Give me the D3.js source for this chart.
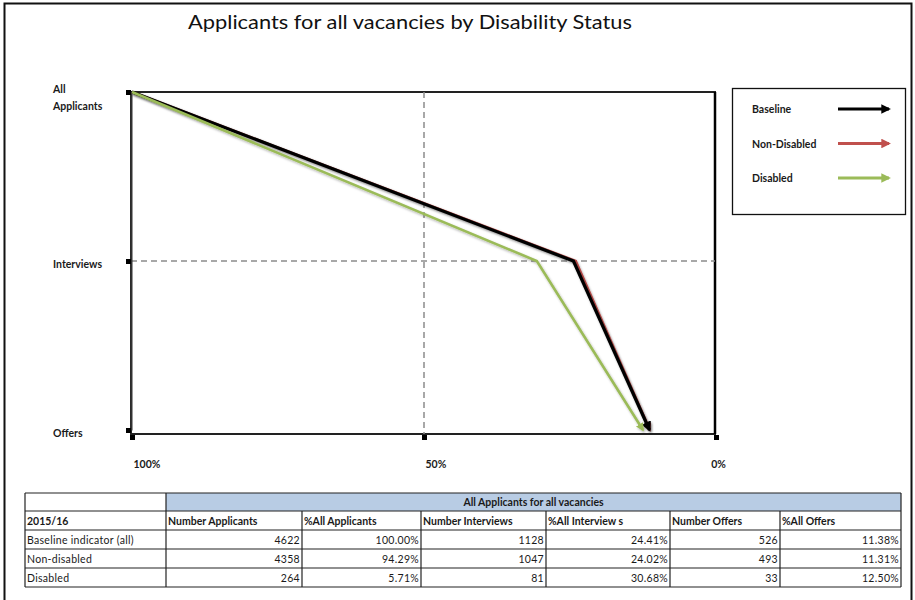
<!DOCTYPE html>
<html>
<head>
<meta charset="utf-8">
<script src="https://cdn.jsdelivr.net/npm/d3@7"></script>
<style>
  body { margin: 0; background: #fff; }
  svg { display: block; font-family: Lato, "Open Sans", sans-serif; }
</style>
</head>
<body>
<svg id="chart" width="915" height="600"></svg>
<script>
// Recruitment stages, top to bottom
const stages = ["All Applicants", "Interviews", "Offers"];

// Share of each group's applicants reaching each stage (%)
const baselinePct    = [100, 24.41, 11.38];
const nonDisabledPct = [100, 24.02, 11.31];
const disabledPct    = [100, 30.68, 12.50];

const seriesNames = ["Baseline", "Non-Disabled", "Disabled"];
const xTicks = [100, 50, 0];

// Summary table
const tableTitle = "All Applicants for all vacancies";
const tableYear = "2015/16";
const tableHeaders = ["Number Applicants", "%All Applicants", "Number Interviews", "%All Interview s", "Number Offers", "%All Offers"];
const rowLabels = ["Baseline indicator (all)", "Non-disabled", "Disabled"];
const applicants = [4622, 4358, 264];
const applicantsPct = ["100.00%", "94.29%", "5.71%"];
const interviews = [1128, 1047, 81];
const interviewsPct = ["24.41%", "24.02%", "30.68%"];
const offers = [526, 493, 33];
const offersPct = ["11.38%", "11.31%", "12.50%"];

const colors = { "Baseline": "#000000", "Non-Disabled": "#c0504d", "Disabled": "#9bbb59" };

const svg = d3.select("#chart");

// outer frame
svg.append("rect").attr("x", 4.5).attr("y", 3.5).attr("width", 907).attr("height", 605)
  .attr("fill", "none").attr("stroke", "#111").attr("stroke-width", 2);

// title
svg.append("text").attr("x", 410).attr("y", 29).attr("text-anchor", "middle")
  .attr("font-size", 19).attr("fill", "#111")
  .attr("textLength", 444).attr("lengthAdjust", "spacingAndGlyphs")
  .text("Applicants for all vacancies by Disability Status");

const defs = svg.append("defs");
const shadow = defs.append("filter").attr("id", "shadow")
  .attr("x", "-10%").attr("y", "-10%").attr("width", "120%").attr("height", "120%");
shadow.append("feDropShadow").attr("dx", 1).attr("dy", 1.5).attr("stdDeviation", 1)
  .attr("flood-color", "#000").attr("flood-opacity", 0.3);

// arrowheads, one per series colour
seriesNames.forEach((name, i) => {
  defs.append("marker").attr("id", "arrow" + i)
    .attr("viewBox", "0 0 10 10").attr("refX", 8).attr("refY", 5)
    .attr("markerWidth", 3.2).attr("markerHeight", 3.2).attr("orient", "auto")
    .append("path").attr("d", "M0,0 L10,5 L0,10 Z").attr("fill", colors[name]);
});

// plot area
const plotLeft = 131, plotRight = 715, plotTop = 92, plotBottom = 434;
const x = d3.scaleLinear().domain([100, 0]).range([plotLeft + 1, plotRight + 1]);
const y = d3.scalePoint().domain(stages).range([92, 430]);

const g = svg.append("g");

// frame of the plot area
g.append("rect").attr("x", plotLeft).attr("y", plotTop)
  .attr("width", plotRight - plotLeft).attr("height", plotBottom - plotTop)
  .attr("fill", "none").attr("stroke", "#222").attr("stroke-width", 2);
g.append("line").attr("x1", plotRight).attr("x2", plotRight).attr("y1", plotTop).attr("y2", plotBottom)
  .attr("stroke", "#000").attr("stroke-width", 2.5);

// dashed guide lines
g.append("line").attr("x1", x(50)).attr("x2", x(50)).attr("y1", plotTop).attr("y2", plotBottom)
  .attr("stroke", "#8c8c8c").attr("stroke-width", 1.5).attr("stroke-dasharray", "6,4");
g.append("line").attr("x1", plotLeft).attr("x2", plotRight)
  .attr("y1", y("Interviews")).attr("y2", y("Interviews"))
  .attr("stroke", "#8c8c8c").attr("stroke-width", 1.5).attr("stroke-dasharray", "6,4");

// left axis: square tick marks, labels flush left
const yAxis = g.append("g").attr("transform", `translate(${plotLeft},0)`)
  .call(d3.axisLeft(y).tickSizeInner(5).tickSizeOuter(0).tickPadding(0));
yAxis.select(".domain").attr("stroke", "#333").attr("stroke-width", 2);
yAxis.selectAll(".tick line").attr("stroke", "#000").attr("stroke-width", 5);
yAxis.selectAll(".tick text").remove();
yAxis.selectAll(".tick").append("text")
  .attr("x", 53 - plotLeft).attr("text-anchor", "start")
  .attr("font-size", 10.5).attr("font-weight", "bold").attr("fill", "#1a1a1a")
  .attr("font-family", "Lato, sans-serif")
  .each(function(d) {
    const t = d3.select(this);
    const words = d === "All Applicants" ? ["All", "Applicants"] : [d];
    const y0 = words.length === 2 ? 0 : 6;
    words.forEach((w, i) => t.append("tspan").attr("x", 53 - plotLeft).attr("y", y0 + i * 17).text(w));
  });

// bottom axis
const xAxis = g.append("g").attr("transform", `translate(0,${plotBottom})`)
  .call(d3.axisBottom(x).tickValues(xTicks).tickFormat(d => d + "%")
    .tickSizeInner(5).tickSizeOuter(0).tickPadding(0));
xAxis.select(".domain").remove();
xAxis.selectAll(".tick line").attr("stroke", "#000").attr("stroke-width", 5).attr("y1", 1).attr("y2", 6);
xAxis.selectAll(".tick text")
  .attr("y", 34).attr("dy", 0)
  .attr("text-anchor", d => d === 0 ? "middle" : "start")
  .attr("dx", d => d === 0 ? 2 : 1)
  .attr("font-size", 10.5).attr("font-weight", "bold").attr("fill", "#1a1a1a")
  .attr("font-family", "Lato, sans-serif");

// series lines
const series = [
  { name: "Non-Disabled", values: nonDisabledPct, idx: 1, w: 2.6 },
  { name: "Baseline", values: baselinePct, idx: 0, w: 3.2 },
  { name: "Disabled", values: disabledPct, idx: 2, w: 2.6 }
];
const line = d3.line().x(d => x(d.v)).y(d => y(d.s));
g.selectAll(".series").data(series).join("path")
  .attr("class", "series")
  .attr("d", s => line(s.values.map((v, i) => ({ v, s: stages[i] }))))
  .attr("fill", "none").attr("stroke", s => colors[s.name]).attr("stroke-width", s => s.w)
  .attr("stroke-linejoin", "miter")
  .attr("marker-end", s => `url(#arrow${s.idx})`)
  .attr("filter", "url(#shadow)");

// legend
const legend = svg.append("g");
legend.append("rect").attr("x", 732.5).attr("y", 88.5).attr("width", 173).attr("height", 126)
  .attr("fill", "#fff").attr("stroke", "#111").attr("stroke-width", 1.3);
seriesNames.forEach((name, i) => {
  const ly = 109 + i * 34.5;
  legend.append("text").attr("x", 752).attr("y", ly + 4).attr("font-size", 10.5)
    .attr("font-weight", "bold").attr("fill", "#1a1a1a").text(name);
  legend.append("line").attr("x1", 838).attr("x2", 889).attr("y1", ly).attr("y2", ly)
    .attr("stroke", colors[name]).attr("stroke-width", 3)
    .attr("marker-end", `url(#arrow${i})`);
});

// summary table
const colEdges = [25, 166, 302, 421, 546, 670, 780, 901];
const rowEdges = [493, 511, 530, 549, 568, 587];
const tbl = svg.append("g").attr("font-size", 10.5).attr("fill", "#1a1a1a");

tbl.append("rect").attr("x", colEdges[1]).attr("y", rowEdges[0])
  .attr("width", colEdges[7] - colEdges[1]).attr("height", rowEdges[1] - rowEdges[0])
  .attr("fill", "#b8cce4");
tbl.append("text").attr("x", (colEdges[1] + colEdges[7]) / 2).attr("y", rowEdges[1] - 5)
  .attr("text-anchor", "middle").attr("font-weight", "bold").text(tableTitle);

const rows = [
  [tableYear].concat(tableHeaders),
  ...rowLabels.map((lab, i) => [lab, applicants[i], applicantsPct[i], interviews[i], interviewsPct[i], offers[i], offersPct[i]])
];
rows.forEach((r, ri) => {
  const yb = rowEdges[ri + 2] - 5;
  r.forEach((cell, ci) => {
    const numeric = ri > 0 && ci > 0;
    tbl.append("text")
      .attr("x", numeric ? colEdges[ci + 1] - 2 : colEdges[ci] + 2)
      .attr("y", yb)
      .attr("text-anchor", numeric ? "end" : "start")
      .attr("font-weight", ri === 0 ? "bold" : "normal")
      .attr("letter-spacing", ri === 0 ? 0 : 0.3)
      .text(cell);
  });
});

// grid lines of the table
const border = tbl.append("g").attr("stroke", "#222").attr("stroke-width", 1.2);
rowEdges.forEach(ry => {
  border.append("line").attr("x1", colEdges[0]).attr("x2", colEdges[7]).attr("y1", ry).attr("y2", ry);
});
colEdges.forEach((cx, i) => {
  const y0 = (i === 0 || i === 1 || i === 7) ? rowEdges[0] : rowEdges[1];
  border.append("line").attr("x1", cx).attr("x2", cx).attr("y1", y0).attr("y2", rowEdges[5]);
});
</script>
</body>
</html>
